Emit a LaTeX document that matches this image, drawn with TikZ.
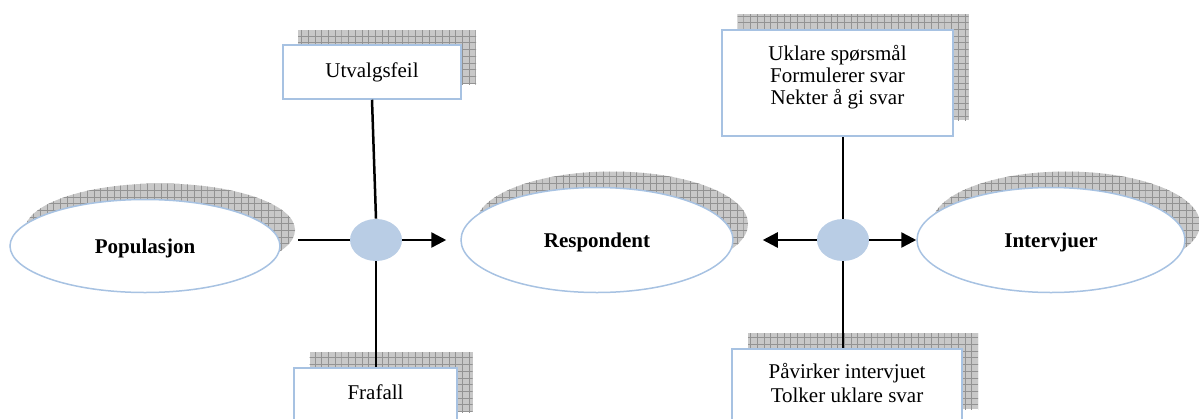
\documentclass[tikz,border=0pt]{standalone}
\usepackage{fontspec}
\setmainfont{Liberation Serif}
\usetikzlibrary{arrows.meta,calc,patterns,shapes.geometric}

% fine square mesh used on the drop shadows
\pgfdeclarepatternformonly{meshgrid}{\pgfqpoint{-0.2pt}{-0.2pt}}{\pgfqpoint{3.55pt}{3.55pt}}{\pgfqpoint{3.35pt}{3.35pt}}{%
  \pgfsetlinewidth{0.3pt}%
  \pgfpathmoveto{\pgfqpoint{0pt}{0pt}}\pgfpathlineto{\pgfqpoint{3.35pt}{0pt}}%
  \pgfpathmoveto{\pgfqpoint{0pt}{0pt}}\pgfpathlineto{\pgfqpoint{0pt}{3.35pt}}%
  \pgfusepath{stroke}}

\definecolor{edgeblue}{HTML}{A7C2E2}
\definecolor{hubfill}{HTML}{B9CDE5}
\definecolor{shadowgray}{HTML}{C8C8C8}
\definecolor{meshline}{HTML}{939393}

\tikzset{
  shadowfill/.style={draw=none, fill=shadowgray, postaction={pattern=meshgrid, pattern color=meshline}},
  topic/.style={ellipse, draw=edgeblue, line width=0.75pt, fill=white, inner sep=0pt,
                text depth=0pt, font=\fontsize{10.5}{12}\selectfont\bfseries},
  topicshadow/.style={ellipse, shadowfill, inner sep=0pt},
  notebox/.style={rectangle, draw=edgeblue, line width=0.75pt, fill=white, inner sep=0pt,
                  align=center, font=\fontsize{10.5}{12}\selectfont},
  noteshadow/.style={rectangle, shadowfill, inner sep=0pt},
  notetext/.style={inner sep=0pt, align=center, font=\fontsize{10.5}{10.9}\selectfont},
  hub/.style={ellipse, fill=hubfill, minimum width=26pt, minimum height=21pt, inner sep=0pt},
  conn/.style={line width=1.25pt, black},
  arr/.style={conn, -{Triangle[length=7.5pt,width=7.5pt]}},
}

\begin{document}
\begin{tikzpicture}[x=0.5pt,y=-0.5pt]
\useasboundingbox (0,0) rectangle (1199,418);
\clip (0,0) rectangle (1199,418);

% ---- shadows ----
\node[topicshadow, minimum width=135pt, minimum height=46.5pt] (popS) at (160,230) {};
\node[topicshadow, minimum width=136pt, minimum height=52.5pt] (resS) at (612,224) {};
\node[topicshadow, minimum width=134pt, minimum height=52.5pt] (intS) at (1066,224) {};
\node[noteshadow, minimum width=89pt, minimum height=27pt] (utS) at (387,57) {};
\node[noteshadow, minimum width=81.5pt, minimum height=30pt] (frS) at (391,382) {};
\node[noteshadow, minimum width=115.5pt, minimum height=53pt] (q1S) at (853,67) {};
\node[noteshadow, minimum width=115pt, minimum height=38pt] (q2S) at (863,371) {};

% ---- main ellipses ----
\node[topic, minimum width=135pt, minimum height=46.5pt] (pop) at (145,246) {Populasjon};
\node[topic, minimum width=136pt, minimum height=52.5pt] (res) at (597,240) {Respondent};
\node[topic, minimum width=134pt, minimum height=52.5pt] (int) at (1051,240) {Intervjuer};

% ---- junctions ----
\node[hub] (c1) at (376,240) {};
\node[hub] (c2) at (843,240) {};

% ---- text boxes ----
\node[notebox, minimum width=89pt, minimum height=27pt] (ut) at (372,72) {Utvalgsfeil};
\node[notebox, minimum width=81.5pt, minimum height=30pt] (fr) at (375.5,398) {};
\node[notetext] (frt) at (375.5,392) {Frafall};
\node[notebox, minimum width=115.5pt, minimum height=53pt] (q1) at (837.5,83) {};
\node[notetext] (q1t) at (837.5,77) {Uklare spørsmål\\Formulerer svar\\Nekter å gi svar};
\node[notebox, minimum width=115pt, minimum height=38pt] (q2) at (847,387) {};
\node[notetext, font=\fontsize{10.5}{12.2}\selectfont] (q2t) at (847,383) {Påvirker intervjuet\\Tolker uklare svar};

% ---- connectors ----
\draw[conn] ([xshift=1.5pt]c1.west -| popS.east) -- (c1.west);
\draw[arr] (c1.east) -- ([xshift=-7pt]res.west);
\draw[conn] (ut.south) -- (c1.north);
\draw[conn] (c1.south) -- (c1.south |- fr.north);

\draw[arr] (c2.west) -- ([xshift=14.5pt]res.east);
\draw[arr] (c2.east) -- (int.west);
\draw[conn] (c2.north) -- (c2.north |- q1.south);
\draw[conn] (c2.south) -- (c2.south |- q2.north);
\end{tikzpicture}
\end{document}
